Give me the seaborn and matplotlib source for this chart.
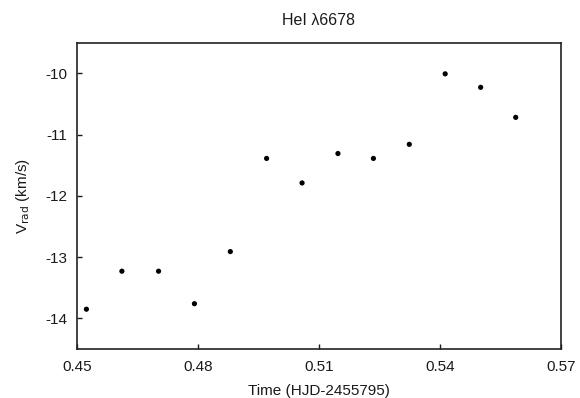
import matplotlib
matplotlib.use("Agg")
import matplotlib.pyplot as plt
import seaborn as sns
import pandas as pd

time = [0.4523, 0.4611, 0.4702, 0.4791, 0.4880, 0.4970, 0.5058, 0.5147, 0.5235, 0.5324, 0.5413, 0.5501, 0.5588]
vrad = [-13.85, -13.23, -13.23, -13.76, -12.91, -11.39, -11.79, -11.31, -11.39, -11.16, -10.01, -10.23, -10.72]
xticks = [0.45, 0.48, 0.51, 0.54, 0.57]
yticks = [-14, -13, -12, -11, -10]

sns.set_style("ticks")
plt.rcParams['font.family'] = ['Liberation Sans', 'DejaVu Sans']

df = pd.DataFrame({"time": time, "vrad": vrad})
fig = plt.figure(figsize=(5.8, 3.98), dpi=100)
ax = fig.add_axes([0.133, 0.123, 0.834, 0.770])
sns.scatterplot(data=df, x="time", y="vrad", ax=ax, color="black", s=14, edgecolor="none")
ax.set_xlim(0.45, 0.57)
ax.set_ylim(-14.5, -9.5)
ax.set_xticks(xticks)
ax.set_xticklabels([f"{t:.2f}" for t in xticks])
ax.set_yticks(yticks)
ax.set_yticklabels([str(t) for t in yticks])
ax.tick_params(direction="in", length=3.5, width=1, labelsize=11, colors="#1a1a1a")
ax.tick_params(axis="y", pad=7)
ax.tick_params(axis="x", pad=8)
for s in ax.spines.values():
    s.set_linewidth(1.2)
    s.set_color("#222222")
ax.set_xlabel("Time (HJD-2455795)", fontsize=11, labelpad=7, color="#1a1a1a")
ax.set_ylabel(r"V$_{\rm rad}$ (km/s)", fontsize=11, labelpad=10, color="#1a1a1a")
ax.set_title("HeI \u03bb6678", fontsize=11.5, pad=13, color="#1a1a1a")
fig.savefig("out.png", dpi=100)
